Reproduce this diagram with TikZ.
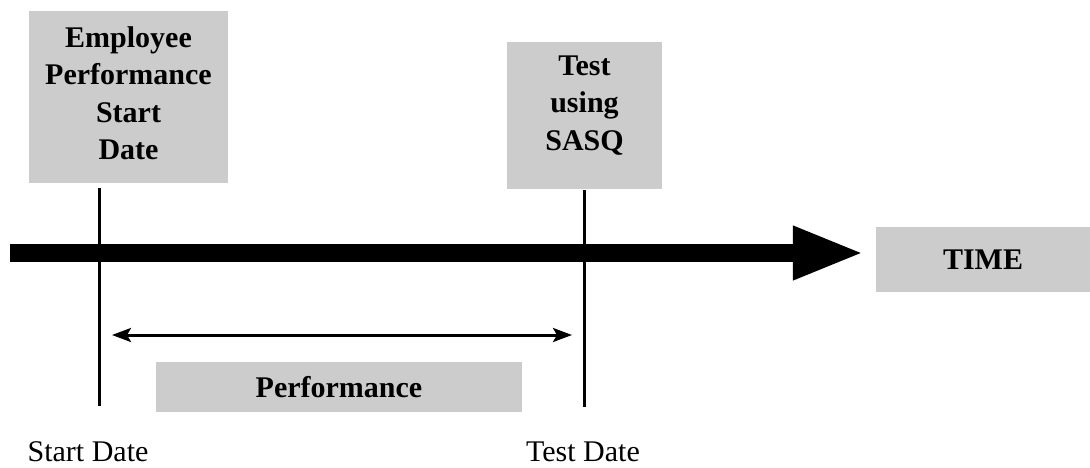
\documentclass[tikz,border=0pt]{standalone}
\usepackage{fontspec}
\setmainfont{Liberation Serif}
\usetikzlibrary{arrows.meta}
\definecolor{boxgrey}{HTML}{CCCCCC}

\begin{document}
\begin{tikzpicture}[
    x=1pt, y=-1pt,
    greybox/.style={rectangle, fill=boxgrey, inner sep=0pt},
    boxtext/.style={align=center, font=\fontsize{30}{37.5}\selectfont\bfseries, inner sep=0pt},
    datetext/.style={font=\fontsize{30}{36}\selectfont, inner sep=0pt},
    timeline/.style={line width=3pt},
    timearrow/.style={line width=18pt, -{Triangle[length=72pt, width=49pt]}},
    spanarrow/.style={line width=3pt, {Stealth[length=19pt, width=14pt, inset=4pt]}-{Stealth[length=19pt, width=14pt, inset=4pt]}}
]
\useasboundingbox (0,0) rectangle (1090,468);

% Boxes above the time axis
\node[greybox, minimum width=199pt, minimum height=172pt] (empstart) at (128.5,97) {};
\node[boxtext] (empstarttext) at ([yshift=4pt]empstart.center) {Employee\\Performance\\Start\\Date};
\node[greybox, minimum width=155pt, minimum height=147pt] (sasq) at (584.5,115.5) {};
\node[boxtext] (sasqtext) at ([yshift=10pt]sasq.center) {Test\\using\\SASQ};

% Time axis
\node[greybox, minimum width=214pt, minimum height=65pt, boxtext] (time) at (983,259.5) {TIME};
\coordinate (axisstart) at (10,253);
\draw[timearrow] (axisstart) -- ([xshift=-11pt]axisstart -| time.west);

% Date lines
\coordinate (starttop) at (99,188);
\coordinate (startbot) at (99,406);
\coordinate (testtop) at (584,190);
\coordinate (testbot) at (584,407);
\draw[timeline] (starttop) -- (startbot);
\draw[timeline] (testtop) -- (testbot);

% Performance span
\coordinate (spanleft) at (112,335);
\coordinate (spanright) at (572,335);
\draw[spanarrow] (spanleft) -- (spanright);
\node[greybox, minimum width=366pt, minimum height=50pt, boxtext] (perf) at (339,387) {Performance};

% Labels below
\node[datetext] (startdate) at (88,452) {Start Date};
\node[datetext] (testdate) at (583,452) {Test Date};

\end{tikzpicture}
\end{document}
